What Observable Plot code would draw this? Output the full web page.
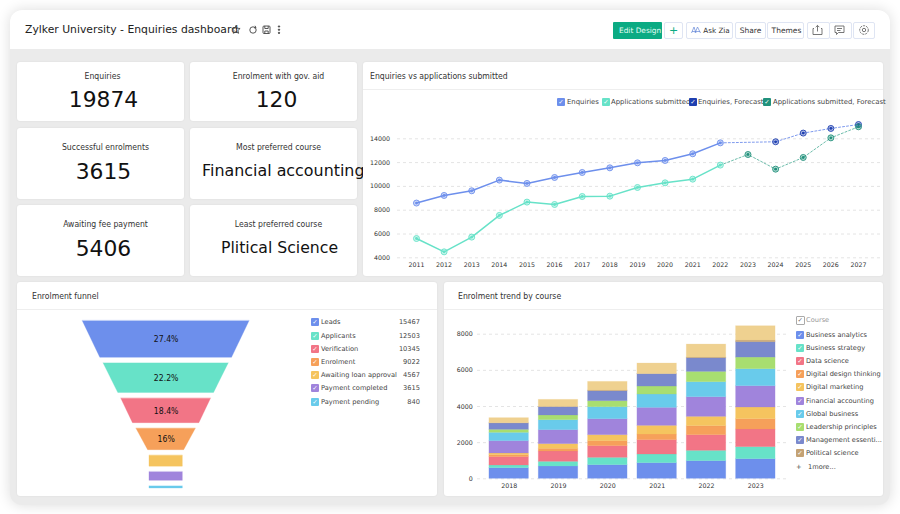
<!DOCTYPE html>
<html><head><meta charset="utf-8">
<script src="https://cdn.jsdelivr.net/npm/d3@7"></script>
<script src="https://cdn.jsdelivr.net/npm/@observablehq/plot@0.6"></script>
<style>
html,body{margin:0;padding:0;background:#fff;width:900px;height:514px;overflow:hidden;font-family:"DejaVu Sans",sans-serif;color:#222}
.abs{position:absolute}
#win{position:absolute;left:10px;top:10px;width:880px;height:495px;background:#ebebeb;border-radius:12px;box-shadow:0 0 14px rgba(0,0,0,.14);overflow:hidden}
#head{position:absolute;left:10px;top:10px;width:880px;height:39px;background:#fff;border-radius:12px 12px 0 0}
.card{position:absolute;background:#fff;border-radius:3px;box-shadow:0 0 2px rgba(0,0,0,.08)}
.kt{position:absolute;left:0;right:0;text-align:center;font-family:"DejaVu Sans Condensed","DejaVu Sans";font-size:8.6px;color:#333;white-space:nowrap}
.kv{position:absolute;left:0;right:0;text-align:center;color:#111;white-space:nowrap}
.ct{position:absolute;font-family:"DejaVu Sans Condensed","DejaVu Sans";font-size:8.6px;color:#333;white-space:nowrap}
.hr{position:absolute;height:1px;background:#eee}
.btn{position:absolute;top:22px;height:15px;box-sizing:content-box;border:1px solid #dfe5f3;border-radius:2px;background:#fff;font-size:7.5px;line-height:15px;text-align:center;color:#333;white-space:nowrap;overflow:hidden}
.lg{position:absolute;font-size:6.65px;color:#444;white-space:nowrap;line-height:9px}
.sw{position:absolute;width:8px;height:8px;border-radius:1px;color:#fff;font-size:6.5px;line-height:8px;text-align:center}
</style></head><body>
<div id="win"></div><div id="head"></div>
<div class="abs" style="left:25px;top:23px;font-size:10.8px;color:#222;white-space:nowrap">Zylker University - Enquiries dashboard</div>
<svg class="abs" style="left:230px;top:22px" width="56" height="15" fill="none" stroke="#444" stroke-width="0.9">
<path d="M6 3.5l1.2 2.7 2.9.3-2.2 2 .7 2.8L6 9.8 3.4 11.3l.7-2.8-2.2-2 2.9-.3z"/>
<circle cx="23" cy="8" r="3.2"/><path d="M25 3.8l1 1.8-2 .3" />
<rect x="33" y="4" width="7" height="7.5" rx="1"/><path d="M34.8 4v2.5h3.4V4M34.8 11.5V9h3.4v2.5"/>
<circle cx="49" cy="4.5" r=".7" fill="#444"/><circle cx="49" cy="7.7" r=".7" fill="#444"/><circle cx="49" cy="10.9" r=".7" fill="#444"/></svg>
<div class="btn" style="left:613px;width:49px;height:17px;border:0;background:#0bab83;color:#e9fff8;line-height:17px;font-size:7.4px;text-align:left;text-indent:6px;border-radius:1px">Edit Design</div>
<div class="btn" style="left:664px;width:17px;color:#0bab83;font-size:11px">+</div>
<div class="btn" style="left:686px;width:45px;text-align:right;font-size:7.2px">Ask Zia&nbsp;</div>
<svg class="abs" style="left:691px;top:25px" width="10" height="10" fill="none" stroke="#6688d8" stroke-width=".7"><path d="M.5 8L3 2l2 6M4 8l2.5-6L9.5 8M1 6.5h8"/></svg>
<div class="btn" style="left:735px;width:29px">Share</div>
<div class="btn" style="left:767px;width:35px;text-indent:2px">Themes</div>
<div class="btn" style="left:807px;width:21px"></div><div class="btn" style="left:829px;width:21px"></div><div class="btn" style="left:853px;width:20px"></div>
<svg class="abs" style="left:807px;top:22px" width="68" height="16" fill="none" stroke="#555" stroke-width=".8">
<path d="M7 6.5H6v6h9v-6h-1M10.5 9.5V3.5M8.7 5.2l1.8-1.8 1.8 1.8"/>
<path d="M28 4h9v6.5h-5.5l-2 2v-2H28zM30 6.5h5M30 8.5h3.5"/>
<circle cx="57" cy="8" r="1.7"/><circle cx="57" cy="8" r="4.3" stroke-dasharray="2.2 .9"/></svg>

<div class="card" style="left:17px;top:62px;width:167px;height:59px"><div class="kt" style="top:9px;left:4px">Enquiries</div><div class="kv" style="top:25px;font-size:21.8px;left:6px">19874</div></div>
<div class="card" style="left:190px;top:62px;width:167px;height:59px"><div class="kt" style="top:9px;left:10px">Enrolment with gov. aid</div><div class="kv" style="top:25px;font-size:21.8px;left:6px">120</div></div>
<div class="card" style="left:17px;top:128px;width:167px;height:71px"><div class="kt" style="top:14px;left:10px">Successful enrolments</div><div class="kv" style="top:31px;font-size:21.8px;left:6px">3615</div></div>
<div class="card" style="left:190px;top:128px;width:167px;height:71px"><div class="kt" style="top:14px;left:10px">Most preferred course</div><div class="kv" style="top:33px;font-size:15.9px;left:12px;text-align:left">Financial accounting</div></div>
<div class="card" style="left:17px;top:205px;width:167px;height:71px"><div class="kt" style="top:14px;left:10px">Awaiting fee payment</div><div class="kv" style="top:31px;font-size:21.8px;left:6px">5406</div></div>
<div class="card" style="left:190px;top:205px;width:167px;height:71px"><div class="kt" style="top:14px;left:10px">Least preferred course</div><div class="kv" style="top:33px;font-size:15.7px;left:12px">Plitical Science</div></div>

<div class="card" style="left:363px;top:62px;width:520px;height:214px"></div>
<div class="ct" style="left:370px;top:71px">Enquiries vs applications submitted</div>
<div class="hr" style="left:363px;top:89px;width:520px"></div>
<div class="card" style="left:17px;top:282px;width:420px;height:214px"></div>
<div class="ct" style="left:32px;top:291px">Enrolment funnel</div>
<div class="hr" style="left:17px;top:309px;width:420px"></div>
<div class="card" style="left:444px;top:282px;width:439px;height:214px"></div>
<div class="ct" style="left:458px;top:291px">Enrolment trend by course</div>
<div class="hr" style="left:444px;top:309px;width:439px"></div>
<div id="charts"></div><div id="legends"></div>
<script>
const font = '"DejaVu Sans", sans-serif';
// Line chart data
const years = [2011,2012,2013,2014,2015,2016,2017,2018,2019,2020,2021,2022,2023,2024,2025,2026,2027];
const enquiryYears = [2011,2012,2013,2014,2015,2016,2017,2018,2019,2020,2021,2022];
const enquiries = [8600,9240,9630,10530,10250,10750,11170,11560,11980,12180,12740,13660];
const applicationYears = enquiryYears;
const applications = [5620,4500,5740,7560,8680,8480,9150,9180,9910,10300,10610,11790];
const enquiryForecastYears = [2024,2025,2026,2027];
const enquiryForecast = [13750,14480,14870,15200];
const applicationForecastYears = [2023,2024,2025,2026,2027];
const applicationForecast = [12680,11450,12430,14080,15010];
const lineTicks = [4000,6000,8000,10000,12000,14000];
const blue="#6d8fec", teal="#67e2c8", darkBlue="#1f3fb0", darkTeal="#21917c";

// Funnel data
const stages = ["Leads","Applicants","Verification","Enrolment","Awaiting loan approval","Payment completed","Payment pending"];
const stageCounts = [15467,12503,10345,9022,4567,3615,840];
const stageTopWidths = [100,75,53.8,35.6,20,20,20];
const stageBottomWidths = [79,57.4,39.8,21.6,20,20,20];
const stageColors = ["#6d8fec","#67e2c8","#f27586","#f6a05a","#f5c45f","#a084dc","#69cbeb"];
const stageGap = 4.25;

// Stacked bar data
const trendYears = ["2018","2019","2020","2021","2022","2023"];
const courses = ["Business analytics","Business strategy","Data science","Digital design thinking","Digital marketing","Financial accounting","Global business","Leadership principles","Management essenti...","Political science","More courses"];
const businessAnalytics = [590,682,756,866,977,1087];
const businessStrategy = [147,258,405,479,571,664];
const dataScience = [461,571,645,793,866,977];
const digitalDesign = [111,148,277,313,498,571];
const digitalMarketing = [91,258,331,479,516,645];
const financialAccounting = [683,774,885,996,1087,1180];
const globalBusiness = [461,553,663,737,830,939];
const leadership = [166,258,332,442,571,645];
const management = [350,461,553,682,756,848];
const politicalScience = [15,17,37,8,38,92];
const moreCourses = [280,388,479,582,717,793];
const courseValues = [businessAnalytics,businessStrategy,dataScience,digitalDesign,digitalMarketing,financialAccounting,globalBusiness,leadership,management,politicalScience,moreCourses];
const courseColors = ["#6d8fec","#67e2c8","#f27586","#f6a05a","#f5c45f","#a084dc","#69cbeb","#a8de70","#7a89cd","#c4a274","#efd190"];

const charts = document.getElementById("charts");
function place(svg,left,top){svg.style.position="absolute";svg.style.overflow="visible";svg.style.left=left+"px";svg.style.top=top+"px";charts.appendChild(svg);}
const zip=(xs,ys)=>xs.map((x,i)=>({x,y:ys[i]}));
function ringed(rows,ring,core){return [
  Plot.dot(rows,{x:"x",y:"y",r:3,fill:ring,fillOpacity:.35,stroke:ring,strokeWidth:.9}),
  Plot.dot(rows,{x:"x",y:"y",r:1.4,fill:core})];}

const lastE={x:2022,y:enquiries[enquiries.length-1]}, lastA={x:2022,y:applications[applications.length-1]};
const eRows=zip(enquiryYears,enquiries), aRows=zip(applicationYears,applications),
      efRows=zip(enquiryForecastYears,enquiryForecast), afRows=zip(applicationForecastYears,applicationForecast);
place(Plot.plot({
  width:520,height:186,marginLeft:34,marginRight:3,marginTop:0,marginBottom:0,
  style:{fontFamily:font,fontSize:"6.3px",color:"#333",background:"transparent"},
  x:{type:"point",domain:years,padding:0.742,align:0.463,round:false,label:null,tickFormat:d=>String(d)},
  y:{domain:[4000,14000],range:[167.3,48.3],label:null},
  marks:[
    Plot.gridY(lineTicks,{stroke:"#e4e4e4",strokeOpacity:1,strokeDasharray:"3 3"}),
    Plot.axisX(years,{anchor:"bottom",tickSize:0,tickPadding:0,label:null,y:4000,dy:5,tickFormat:d=>String(d),fontSize:6.3}),
    Plot.axisY(lineTicks,{anchor:"left",tickSize:0,tickPadding:7.5,label:null,tickFormat:d=>String(d),fontSize:6.3}),
    Plot.line(eRows,{x:"x",y:"y",stroke:blue,strokeWidth:1.5}),
    Plot.line(aRows,{x:"x",y:"y",stroke:teal,strokeWidth:1.5}),
    Plot.line([lastE,...efRows],{x:"x",y:"y",stroke:"#7f9bee",strokeWidth:1,strokeDasharray:"2 2"}),
    Plot.line([lastA,...afRows],{x:"x",y:"y",stroke:"#6dbdab",strokeWidth:1,strokeDasharray:"2 2"}),
    ...ringed(eRows,blue,blue),...ringed(aRows,teal,teal),
    ...ringed(efRows,darkBlue,darkBlue),...ringed(afRows,darkTeal,darkTeal)
  ]
}),363,90);

// Funnel: every stage is an area between two edges on shared scales
const total=d3.sum(stageCounts);
let cursor=0; const funnelPts=[], funnelLabels=[];
stages.forEach((s,i)=>{
  const pct=stageCounts[i]/total*100, t=cursor, b=cursor+pct;
  funnelPts.push({s,y:t,x1:-stageTopWidths[i]/2,x2:stageTopWidths[i]/2},{s,y:b,x1:-stageBottomWidths[i]/2,x2:stageBottomWidths[i]/2});
  if(i<4) funnelLabels.push({y:(t+b)/2,label:(Math.round(pct*10)/10)+"%"});
  cursor=b+stageGap;
});
place(Plot.plot({
  width:300,height:186,margin:0,
  style:{fontFamily:'"DejaVu Sans Condensed","DejaVu Sans"',fontSize:"8.6px",background:"transparent"},
  x:{domain:[-50,50],range:[82.3,249],axis:null},
  y:{domain:[0,cursor-stageGap],range:[10.7,178],axis:null},
  color:{domain:stages,range:stageColors},
  marks:[
    Plot.areaX(funnelPts,{x1:"x1",x2:"x2",y:"y",z:"s",fill:"s",stroke:"s",strokeOpacity:.3,strokeWidth:1,curve:"linear"}),
    Plot.text(funnelLabels,{x:0,y:"y",text:"label",fill:"#111",fontSize:8.6})
  ]
}),0,310);

// Stacked bars
const trendRows=courses.flatMap((c,i)=>trendYears.map((y,j)=>({year:y,course:c,value:courseValues[i][j]})));
place(Plot.plot({
  width:343,height:186,marginLeft:33,marginRight:0,marginTop:0,marginBottom:0,
  style:{fontFamily:font,fontSize:"6.3px",color:"#333",background:"transparent"},
  x:{domain:trendYears,paddingInner:0.2,paddingOuter:0.242,round:false,label:null},
  y:{domain:[0,8000],range:[168.3,23.7],label:null},
  color:{domain:courses,range:courseColors},
  marks:[
    Plot.gridY([0,2000,4000,6000,8000],{stroke:"#e4e4e4",strokeOpacity:1,strokeDasharray:"3 3"}),
    Plot.axisX({anchor:"bottom",tickSize:0,tickPadding:0,label:null,y:0,dy:5,fontSize:6.3}),
    Plot.axisY([0,2000,4000,6000,8000],{anchor:"left",tickSize:0,tickPadding:4.7,label:null,tickFormat:d=>String(d),fontSize:6.3}),
    Plot.barY(trendRows,{x:"year",y:"value",fill:"course",stroke:"course",strokeOpacity:.3,strokeWidth:.8,order:null})
  ]
}),444,310);

// Legends (real text)
const L=document.getElementById("legends");
function add(cls,style,txt){const d=document.createElement("div");d.className=cls;d.style.cssText=style;d.textContent=txt;L.appendChild(d);return d;}
function item(x,y,color,label,tx,fs,dy=0.5){add("sw",`left:${x}px;top:${y-4}px;background:${color}`,"✓");add("lg",`left:${tx}px;top:${y-4.5+dy}px`+(fs?`;font-size:${fs}px`:""),label);}
item(557,101.5,blue,"Enquiries",567,6.9);
item(602,101.5,teal,"Applications submitted",611,6.9);
item(689,101.5,darkBlue,"Enquiries, Forecast",698,6.9);
item(763,101.5,darkTeal,"Applications submitted, Forecast",773,6.9,1.2);
const fy=[322.3,335.7,349.3,362.3,375.3,388.3,402.3];
stages.forEach((s,i)=>{item(311,fy[i],stageColors[i],s,321);
  add("lg",`left:380px;width:40px;text-align:right;top:${fy[i]-4}px`,stageCounts[i]);});
add("sw","left:796px;top:316.3px;background:#fff;border:1px solid #aaa;width:6.5px;height:6.5px;color:#666;line-height:6.5px","✓");
add("lg","left:806px;top:316.3px;color:#999","Course");
const cy=[334.7,347.7,360.7,374.3,387.3,400.7,413.7,427.3,440.3,453.3];
cy.forEach((y,i)=>item(796,y,courseColors[i],courses[i],806));
add("lg","left:796px;top:462.7px","+");
add("lg","left:808px;top:462.7px","1more...");
</script>
</body></html>
